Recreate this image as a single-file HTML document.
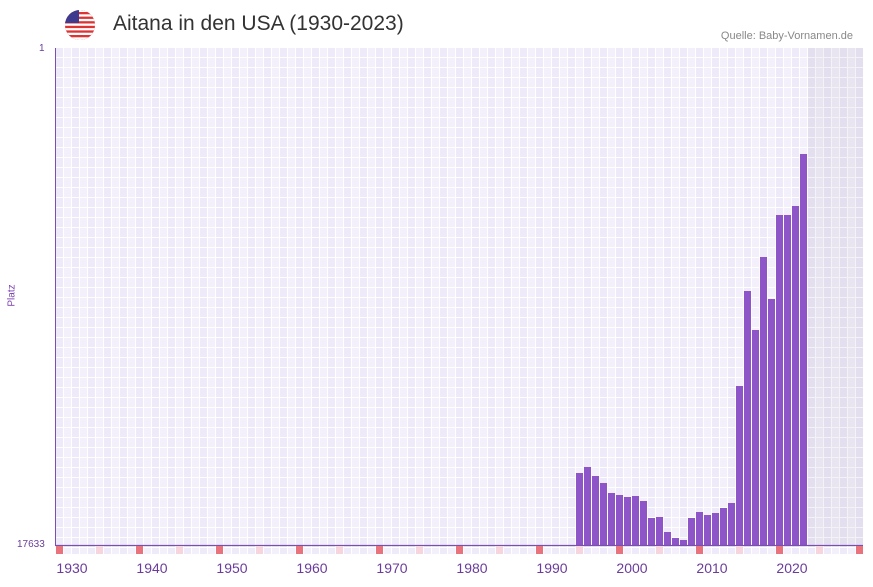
<!DOCTYPE html>
<html><head><meta charset="utf-8"><style>
body{margin:0;width:873px;height:587px;background:#fff;font-family:"Liberation Sans",sans-serif;position:relative;overflow:hidden}
.t{position:absolute;white-space:nowrap}
</style></head><body>
<svg width="873" height="587" style="position:absolute;left:0;top:0">
<defs>
<pattern id="g" x="56" y="48" width="16" height="10" patternUnits="userSpaceOnUse">
<rect width="8" height="10" fill="#eeeafa"/><rect x="8" width="8" height="10" fill="#f3f0fc"/>
<rect x="7" width="1" height="10" fill="#fff"/><rect x="15" width="1" height="10" fill="#fff"/>
<rect y="9" width="16" height="1" fill="#fff"/>
</pattern>
<pattern id="g2" x="56" y="48" width="16" height="10" patternUnits="userSpaceOnUse">
<rect width="8" height="10" fill="#e3dfee"/><rect x="8" width="8" height="10" fill="#e8e5f0"/>
<rect x="7" width="1" height="10" fill="#f4f2f7"/><rect x="15" width="1" height="10" fill="#f4f2f7"/>
<rect y="9" width="16" height="1" fill="#f4f2f7"/>
</pattern>
</defs>
<rect x="56" y="48" width="752" height="497" fill="url(#g)"/>
<rect x="808" y="48" width="55" height="497" fill="url(#g2)"/>
<rect x="56" y="546" width="807" height="8" fill="url(#g)"/>
<g fill="#8e55c8" id="bars"></g>
<line x1="55.5" y1="48" x2="55.5" y2="545" stroke="#7a4fb0" stroke-width="1"/>
<line x1="55" y1="545.5" x2="863" y2="545.5" stroke="#7a4fb0" stroke-width="1.2"/>
<g id="marks"></g>
<circle cx="80" cy="25" r="15" fill="#d22"/>
<clipPath id="c"><circle cx="80" cy="25" r="15"/></clipPath>
<g clip-path="url(#c)">
<rect x="65" y="10" width="30" height="30" fill="#fff"/>
<rect x="65" y="12" width="30" height="2.3" fill="#d33"/><rect x="65" y="16.6" width="30" height="2.3" fill="#d33"/>
<rect x="65" y="21.2" width="30" height="2.3" fill="#d33"/><rect x="65" y="25.8" width="30" height="2.3" fill="#d33"/>
<rect x="65" y="30.4" width="30" height="2.3" fill="#d33"/><rect x="65" y="35" width="30" height="2.3" fill="#d33"/>
<rect x="65" y="10" width="14" height="13" fill="#3c3b8e"/>
</g>
</svg>
<div class="t" style="left:113px;top:12px;font-size:21px;color:#333">Aitana in den USA (1930-2023)</div>
<div class="t" style="right:20px;top:30px;font-size:11px;color:#888">Quelle: Baby-Vornamen.de</div>
<div class="t" style="left:39px;top:43px;font-size:10px;color:#6a3d9a">1</div>
<div class="t" style="left:17px;top:539px;font-size:10px;color:#6a3d9a">17633</div>
<div class="t" style="left:1px;top:290px;font-size:10px;color:#7a3fb0;transform:rotate(-90deg);">Platz</div>
<div id="xl"></div>
<script>
var tops=[473,467,476,483,493,495,497,496,501,518,517,532,538,540,518,512,515,513,508,503,386,291,330,257,299,215,215,206,154];
var s='';tops.forEach(function(t,i){s+='<rect x="'+(576+i*8)+'" y="'+t+'" width="7" height="'+(545-t)+'"/>';});
document.getElementById('bars').innerHTML=s;
var m='';for(var x=56;x<863;x+=40){var dark=((x-56)/40)%2==0;var c=dark?'#e8737c':'#f6d5de';if(x==576||x==656||x==736)c='#f6d5de';m+='<rect x="'+x+'" y="546" width="7" height="8" fill="'+c+'"/>';}
document.getElementById('marks').innerHTML=m;
var h='';for(var y=1930;y<=2020;y+=10){var x=72+(y-1930)*8;h+='<div class="t" style="left:'+(x-17)+'px;top:560px;width:34px;text-align:center;font-size:14px;color:#6a3d9a">'+y+'</div>';}
document.getElementById('xl').innerHTML=h;
</script>
</body></html>
